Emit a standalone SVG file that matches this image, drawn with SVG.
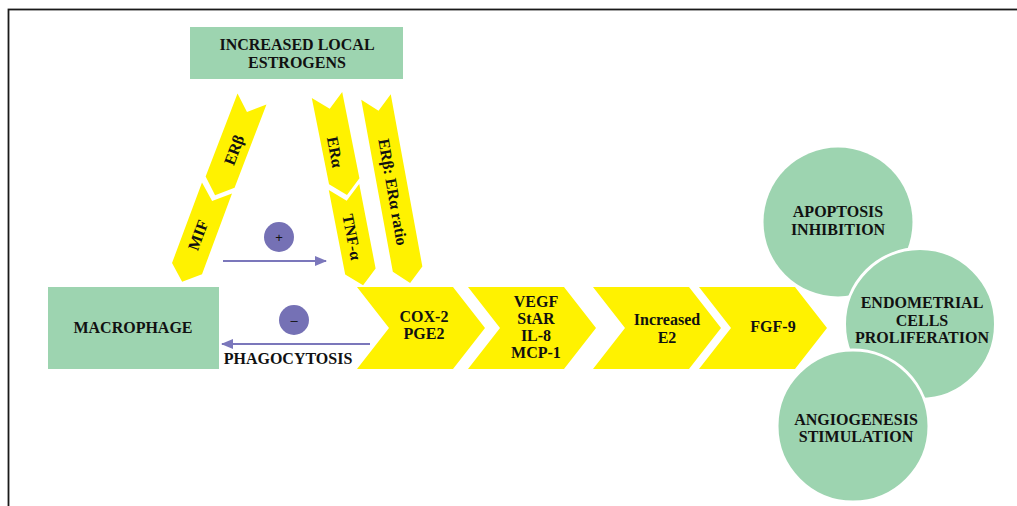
<svg xmlns="http://www.w3.org/2000/svg" width="1017" height="506" viewBox="0 0 1017 506">
<defs>
<style>
.box{fill:#9dd4b0}
.chev{fill:#fff200}
.t{font-family:"Liberation Serif","Times New Roman",serif;font-weight:bold;font-size:16px;fill:#111;text-anchor:middle}
.dt{font-family:"Liberation Serif","Times New Roman",serif;font-weight:bold;font-size:16px;fill:#111;text-anchor:middle;dominant-baseline:central}
.sign{fill:#7571b5}
.arr{stroke:#7b77bb;stroke-width:2;fill:none}
.circ{fill:#9dd4b0;stroke:#fff;stroke-width:3}
</style>
<marker id="ah" viewBox="0 0 12 10" refX="11" refY="5" markerWidth="12" markerHeight="10" markerUnits="userSpaceOnUse" orient="auto">
<path d="M0,0 L12,5 L0,10 Z" fill="#7b77bb"/>
</marker>
</defs>
<rect width="1017" height="506" fill="#fff"/>
<rect x="8.5" y="9.5" width="1100" height="600" fill="none" stroke="#1a1a1a" stroke-width="1.8"/>

<g id="estrogens">
<rect class="box" x="190" y="27" width="213" height="52"/>
<text class="t" x="297" y="50">INCREASED LOCAL</text>
<text class="t" x="297" y="68">ESTROGENS</text>
</g>

<g id="macrophage">
<rect class="box" x="48" y="287" width="171" height="82"/>
<text class="t" x="133" y="333">MACROPHAGE</text>
</g>

<g id="erb">
<path class="chev" transform="translate(252,99) rotate(21)" d="M-15.5,0 L0,14 L15.5,0 L15.5,89 L0,103 L-15.5,89 Z"/>
<text class="dt" transform="translate(234,150) rotate(-69)">ERβ</text>
</g>
<g id="mif">
<path class="chev" transform="translate(217,188) rotate(20.4)" d="M-16,0 L0,14 L16,0 L16,86 L0,100 L-16,86 Z"/>
<text class="dt" transform="translate(198,235) rotate(-70)">MIF</text>
</g>
<g id="era">
<path class="chev" transform="translate(327,95) rotate(-11.3)" d="M-15.5,0 L0,14 L15.5,0 L15.5,88 L0,102 L-15.5,88 Z"/>
<text class="dt" transform="translate(335,152) rotate(79)">ERα</text>
</g>
<g id="tnf">
<path class="chev" transform="translate(344,187) rotate(-11)" d="M-15.5,0 L0,14 L15.5,0 L15.5,86 L0,100 L-15.5,86 Z"/>
<text class="dt" transform="translate(352,237) rotate(79)">TNF-α</text>
</g>
<g id="ratio">
<path class="chev" transform="translate(376,97) rotate(-10.4)" d="M-15,0 L0,14 L15,0 L15,175 L0,189 L-15,175 Z"/>
<text class="dt" transform="translate(393,192) rotate(80)">ERβ: ERα ratio</text>
</g>

<g id="cox">
<path class="chev" d="M357,287 L453,287 L485,328 L453,369 L357,369 L389,328 Z"/>
<text class="t" x="424" y="322">COX-2</text>
<text class="t" x="424" y="339">PGE2</text>
</g>
<g id="vegf">
<path class="chev" d="M468,287 L564,287 L596,328 L564,369 L468,369 L500,328 Z"/>
<text class="t" x="536" y="307">VEGF</text>
<text class="t" x="536" y="324">StAR</text>
<text class="t" x="536" y="341">IL-8</text>
<text class="t" x="536" y="358">MCP-1</text>
</g>
<g id="e2">
<path class="chev" d="M593,287 L689,287 L721,328 L689,369 L593,369 L625,328 Z"/>
<text class="t" x="667" y="325">Increased</text>
<text class="t" x="667" y="343">E2</text>
</g>
<g id="fgf9">
<path class="chev" d="M699,287 L795,287 L827,328 L795,369 L699,369 L731,328 Z"/>
<text class="t" x="773" y="332">FGF-9</text>
</g>

<g id="apoptosis">
<circle class="box" cx="838" cy="222" r="74.5"/>
<text class="t" x="838" y="217">APOPTOSIS</text>
<text class="t" x="838" y="235">INHIBITION</text>
</g>
<g id="proliferation">
<circle class="circ" cx="920" cy="324" r="75.5"/>
<text class="t" x="922" y="308">ENDOMETRIAL</text>
<text class="t" x="922" y="326">CELLS</text>
<text class="t" x="922" y="343">PROLIFERATION</text>
</g>
<g id="angiogenesis">
<circle class="circ" cx="853" cy="426" r="76"/>
<text class="t" x="856" y="425">ANGIOGENESIS</text>
<text class="t" x="856" y="442">STIMULATION</text>
</g>

<g id="plus">
<circle class="sign" cx="279" cy="237" r="15"/>
<text x="279" y="242" style="font-family:'Liberation Sans',Arial,sans-serif;font-size:13px;fill:#111;text-anchor:middle">+</text>
</g>
<g id="minus">
<circle class="sign" cx="294" cy="320" r="15"/>
<text x="294" y="325" style="font-family:'Liberation Sans',Arial,sans-serif;font-size:13px;fill:#111;text-anchor:middle">–</text>
</g>

<g id="connectors">
<line class="arr" x1="223" y1="261" x2="326" y2="261" marker-end="url(#ah)"/>
<line class="arr" x1="370" y1="344" x2="222" y2="344" marker-end="url(#ah)"/>
</g>
<text class="t" x="288" y="364">PHAGOCYTOSIS</text>
</svg>
